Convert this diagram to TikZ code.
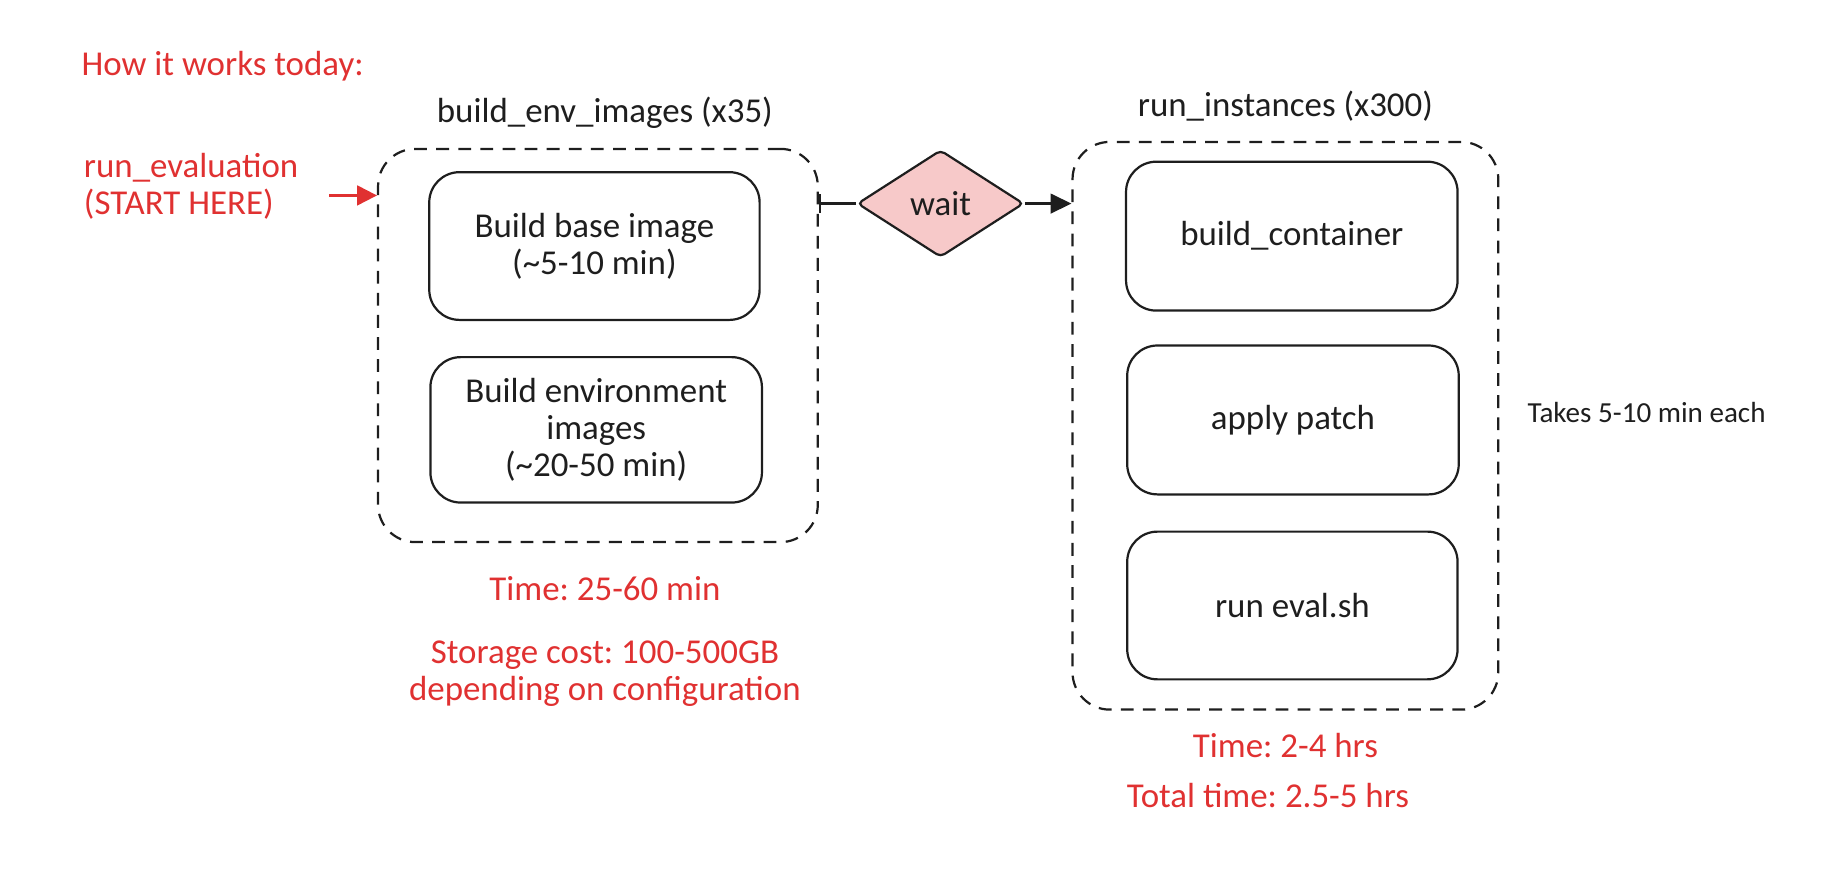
\documentclass[tikz,border=0pt]{standalone}
\usepackage{fontspec}
\setmainfont{Carlito}
\usetikzlibrary{shapes.geometric,arrows.meta}
\definecolor{exred}{HTML}{E03131}
\definecolor{waitfill}{HTML}{F7C9C9}
\definecolor{ink}{HTML}{1E1E1E}
\frenchspacing
\begin{document}
\begin{tikzpicture}[x=1pt,y=-1pt,
  lbl/.style={font=\fontsize{30}{32}\selectfont, align=center, inner sep=0pt, text=ink},
  redlbl/.style={lbl, text=exred},
  group/.style={draw=ink, line width=1.9pt, rounded corners=32pt, dash pattern=on 11pt off 8pt, inner sep=0pt},
  stepbox/.style={draw=ink, line width=1.9pt, rounded corners=26pt, inner sep=0pt, align=center, text=ink,
     font=\fontsize{30}{32}\selectfont},
  conn/.style={draw=ink, line width=1.9pt},
]
\useasboundingbox (0,0) rectangle (1568,750);

% title labels
\node[redlbl, anchor=west] (how) at (70,57) {How it works today:};
\node[redlbl, anchor=west, align=left] (start) at (72,160) {run\_evaluation\\(START HERE)};

% left group
\node[group, minimum width=378pt, minimum height=338pt] (gl) at (514,297) {};
\node[lbl] (gltitle) at (520,97) {build\_env\_images (x35)};
\node[stepbox, minimum width=284pt, minimum height=127pt] (b1) at (511,211.5) {Build base image\\(\textasciitilde5-10 min)};
\node[stepbox, minimum width=285pt, minimum height=125pt] (b2) at (512.5,369.5) {Build environment\\images\\(\textasciitilde20-50 min)};
\node[redlbl] (t1) at (520,506) {Time: 25-60 min};
\node[redlbl] (store) at (520,579) {Storage cost: 100-500GB\\depending on configuration};

% wait diamond
\node[diamond, draw=ink, line width=1.9pt, fill=waitfill, rounded corners=4pt, inner sep=0pt,
      minimum width=143pt, minimum height=92pt, lbl] (wait) at (808.5,175) {wait};

% right group
\node[group, minimum width=366pt, minimum height=488pt] (gr) at (1105,366) {};
\node[lbl] (grtitle) at (1105,91) {run\_instances (x300)};
\node[stepbox, minimum width=285pt, minimum height=128pt] (c1) at (1110.5,203) {build\_container};
\node[stepbox, minimum width=285pt, minimum height=128pt] (c2) at (1111.5,361) {apply patch};
\node[stepbox, minimum width=284pt, minimum height=127pt] (c3) at (1111,520.5) {run eval.sh};
\node[lbl, font=\fontsize{25}{28}\selectfont, anchor=west] (takes) at (1313,355) {Takes 5-10 min each};
\node[redlbl] (t2) at (1105,641) {Time: 2-4 hrs};
\node[redlbl] (tot) at (1090,684) {Total time: 2.5-5 hrs};

% connectors
\coordinate (startfrom) at (283,168);
\draw[draw=exred, line width=1.9pt, -{Triangle[length=17pt,width=17pt]}, exred] (startfrom) -- (startfrom -| gl.west);
\draw[conn, -{Bar[width=16pt]}] (wait.west) -- (wait.west -| gl.east);
\draw[conn, -{Triangle[length=18pt,width=17pt]}] (wait.east) -- (wait.east -| gr.west);
\end{tikzpicture}
\end{document}
